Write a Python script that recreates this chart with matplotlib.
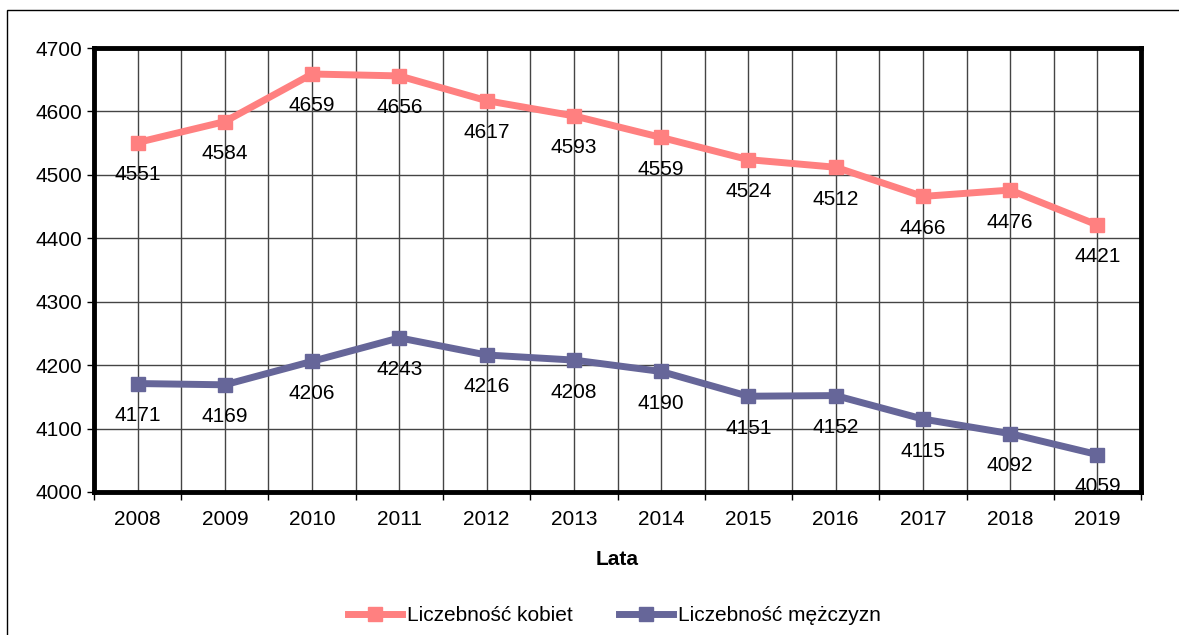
import matplotlib.pyplot as plt
import matplotlib.patches as patches
from matplotlib.transforms import offset_copy

plt.rcParams['font.family'] = ['Liberation Sans', 'DejaVu Sans']

years = ['2008', '2009', '2010', '2011', '2012', '2013', '2014', '2015', '2016', '2017', '2018', '2019']
kobiety = [4551, 4584, 4659, 4656, 4617, 4593, 4559, 4524, 4512, 4466, 4476, 4421]
mezczyzni = [4171, 4169, 4206, 4243, 4216, 4208, 4190, 4151, 4152, 4115, 4092, 4059]
y_ticks = [4000, 4100, 4200, 4300, 4400, 4500, 4600, 4700]

fig = plt.figure(figsize=(11.79, 6.35), dpi=100)
ax = fig.add_axes([0.0797, 0.2252, 0.8881, 0.6992])

# outer chart frame
fig.patches.append(patches.Rectangle((7 / 1179, -0.01), 1.2, 1 - 10 / 635 + 0.01,
                                     transform=fig.transFigure, fill=False,
                                     edgecolor='black', linewidth=1))

x = list(range(len(years)))
ax.plot(x, kobiety, color='#FF8080', linewidth=5, marker='s', markersize=10,
        label='Liczebność kobiet', zorder=3)
ax.plot(x, mezczyzni, color='#666699', linewidth=5, marker='s', markersize=10,
        label='Liczebność mężczyzn', zorder=3)

lbl_tr = offset_copy(ax.transData, fig=fig, x=0, y=-23, units='points')
for series in (kobiety, mezczyzni):
    for i, v in enumerate(series):
        ax.text(i, v, str(v), transform=lbl_tr, ha='center', va='center',
                fontsize=15, zorder=2, clip_on=True)

ax.set_xlim(-0.5, len(years) - 0.5)
ax.set_ylim(4000, 4700)
ax.set_yticks(y_ticks)
ax.set_xticks([i - 0.5 for i in range(len(years) + 1)])
ax.set_xticklabels([])
ax.set_xticks(x, minor=True)
ax.set_xticklabels(years, minor=True)
ax.tick_params(axis='x', which='major', length=6, width=1, direction='out')
ax.tick_params(axis='x', which='minor', length=0, labelsize=15, pad=13)
ax.tick_params(axis='y', length=5, width=1, labelsize=15)

ax.grid(True, which='both', color='#444444', linewidth=1)
ax.set_axisbelow(True)
for s in ax.spines.values():
    s.set_linewidth(3.5)

ax.set_xlabel('Lata', fontsize=15, fontweight='bold', labelpad=15)

fig.legend(loc='center', bbox_to_anchor=(0.521, 0.031), ncol=2, frameon=False,
           fontsize=15, handlelength=2.6, handletextpad=0.25, columnspacing=2.2)

plt.savefig('out.png', dpi=100)
